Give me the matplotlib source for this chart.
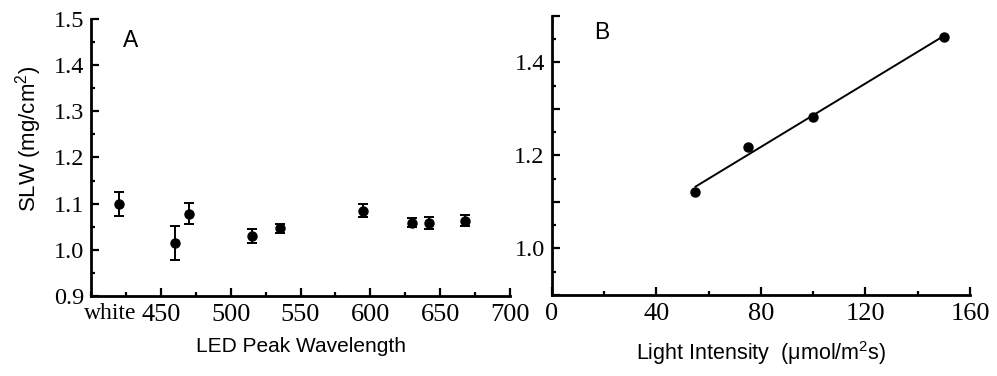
import matplotlib
matplotlib.use("Agg")
import matplotlib.pyplot as plt
import numpy as np
from matplotlib.ticker import MultipleLocator, FixedLocator

# ---- Data ----
# Panel A: SLW vs LED peak wavelength (first point = white light)
led_positions = [420, 460, 470, 515, 535, 595, 630, 642, 668]
slw_led = [1.099, 1.014, 1.078, 1.030, 1.047, 1.085, 1.059, 1.059, 1.063]
slw_led_err = [0.026, 0.037, 0.023, 0.015, 0.0095, 0.014, 0.009, 0.013, 0.012]
white_label_pos = 414
xticks_A = [450, 500, 550, 600, 650, 700]

# Panel B: SLW vs light intensity
intensity = [55, 75, 100, 150]
slw_int = [1.1215, 1.218, 1.282, 1.455]
xticks_B = [0, 40, 80, 120, 160]
yticks_B = [1.0, 1.2, 1.4]

serif = "Liberation Serif"
sans = "Liberation Sans"

fig = plt.figure(figsize=(9.97, 3.76), dpi=100)
W, H = 997, 376
axA = fig.add_axes([91 / W, (H - 296) / H, (510 - 91) / W, (296 - 19) / H])
axB = fig.add_axes([551.7 / W, (H - 295) / H, (970 - 551.7) / W, (295 - 15.7) / H])

for ax in (axA, axB):
    for s in ("top", "right"):
        ax.spines[s].set_visible(False)
    for s in ("left", "bottom"):
        ax.spines[s].set_linewidth(2.0)
    ax.tick_params(which="major", direction="in", length=6, width=1.6)
    ax.tick_params(which="minor", direction="in", length=3, width=1.6)
    ax.tick_params(axis="x", which="major", pad=6, labelsize=19)
    ax.tick_params(axis="y", which="major", pad=5, labelsize=17.5)

# ---- Panel A ----
axA.errorbar(led_positions, slw_led, yerr=slw_led_err, fmt="o", color="black",
             markersize=6.5, elinewidth=1.4, capsize=3.5, capthick=1.4, clip_on=False)
axA.set_xlim(400, 700)
axA.set_ylim(0.9, 1.5)
axA.xaxis.set_major_locator(FixedLocator(xticks_A))
axA.xaxis.set_minor_locator(MultipleLocator(25))
axA.yaxis.set_major_locator(MultipleLocator(0.1))
axA.yaxis.set_minor_locator(MultipleLocator(0.05))
axA.set_xticklabels([str(v) for v in xticks_A], family=serif)
axA.set_yticklabels([f"{v:.1f}" for v in axA.get_yticks()], family=serif)
axA.annotate("white", xy=(white_label_pos, 0), xycoords=("data", "axes fraction"),
             xytext=(0, -5), textcoords="offset points", ha="center", va="top",
             family=serif, fontsize=17)
axA.set_xlabel("LED Peak Wavelength", family=sans, fontsize=15, labelpad=8)
axA.set_ylabel("SLW (mg/cm$\\mathregular{^2}$)", family=sans, fontsize=16, va="center")
axA.yaxis.set_label_coords(-0.148, 0.567)
axA.text(0.095, 0.924, "A", transform=axA.transAxes, family=sans, fontsize=16.5,
         ha="center", va="center")

# ---- Panel B ----
axB.plot(intensity, slw_int, "o", color="black", markersize=6.5, clip_on=False)
coef = np.polyfit(intensity, slw_int, 1)
xfit = np.array([min(intensity), max(intensity)])
axB.plot(xfit, np.polyval(coef, xfit), color="black", linewidth=1.4)
axB.set_xlim(0, 160)
axB.set_ylim(0.9, 1.5)
axB.xaxis.set_major_locator(FixedLocator(xticks_B))
axB.xaxis.set_minor_locator(MultipleLocator(20))
axB.yaxis.set_major_locator(MultipleLocator(0.1))
axB.yaxis.set_minor_locator(MultipleLocator(0.05))
axB.set_xticklabels([str(v) for v in xticks_B], family=serif)
ylabs = []
for v in axB.get_yticks():
    ylabs.append(f"{v:.1f}" if any(abs(v - t) < 1e-6 for t in yticks_B) else "")
axB.set_yticklabels(ylabs, family=serif)
axB.set_xlabel("Light Intensity  (\u03bcmol/m$\\mathregular{^2}$s)", family=sans,
               fontsize=15.5, labelpad=10)
axB.text(0.12, 0.94, "B", transform=axB.transAxes, family=sans, fontsize=16.5,
         ha="center", va="center")

fig.savefig("out.png", dpi=100)
